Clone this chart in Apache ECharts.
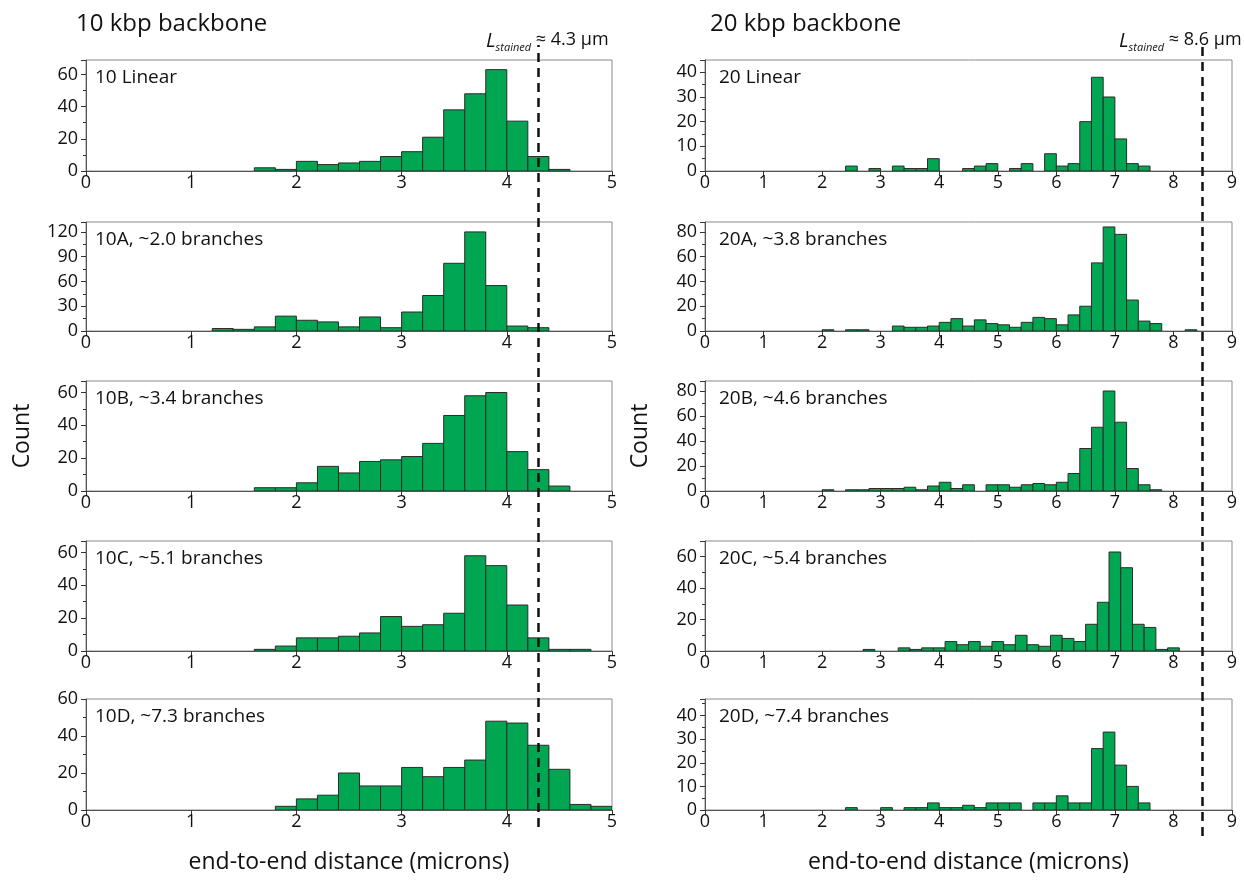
<!DOCTYPE html>
<html><head><meta charset="utf-8">
<script src="https://cdn.jsdelivr.net/npm/echarts@6/dist/echarts.min.js"></script>
<style>html,body{margin:0;padding:0;background:#fff}#c{width:1244px;height:886px}</style>
</head><body><div id="c"></div>
<script>
// ---------- DATA ----------
const BIN_WIDTH = 0.2;

const start10Linear = [1.6,1.8,2.0,2.2,2.4,2.6,2.8,3.0,3.2,3.4,3.6,3.8,4.0,4.2,4.4];
const count10Linear = [2,1,6,4,5,6,9,12,21,38,48,63,31,9,1];

const start10A = [1.2,1.4,1.6,1.8,2.0,2.2,2.4,2.6,2.8,3.0,3.2,3.4,3.6,3.8,4.0,4.2];
const count10A = [3,2,5,18,13,11,5,17,4,23,43,82,120,55,6,4];

const start10B = [1.6,1.8,2.0,2.2,2.4,2.6,2.8,3.0,3.2,3.4,3.6,3.8,4.0,4.2,4.4];
const count10B = [2,2,5,15,11,18,19,21,29,46,58,60,24,13,3];

const start10C = [1.6,1.8,2.0,2.2,2.4,2.6,2.8,3.0,3.2,3.4,3.6,3.8,4.0,4.2,4.4,4.6];
const count10C = [1,3,8,8,9,11,21,15,16,23,58,52,28,8,1,1];

const start10D = [1.8,2.0,2.2,2.4,2.6,2.8,3.0,3.2,3.4,3.6,3.8,4.0,4.2,4.4,4.6,4.8];
const count10D = [2,6,8,20,13,13,23,18,23,27,48,47,35,22,3,2];

const start20Linear = [2.4,2.8,3.2,3.4,3.6,3.8,4.4,4.6,4.8,5.2,5.4,5.8,6.0,6.2,6.4,6.6,6.8,7.0,7.2,7.4];
const count20Linear = [2,1,2,1,1,5,1,2,3,1,3,7,2,3,20,38,30,13,3,2];

const start20A = [2.0,2.4,2.6,3.2,3.4,3.6,3.8,4.0,4.2,4.4,4.6,4.8,5.0,5.2,5.4,5.6,5.8,6.0,6.2,6.4,6.6,6.8,7.0,7.2,7.4,7.6,8.2];
const count20A = [1,1,1,4,3,3,4,7,10,4,9,6,5,3,7,11,10,5,13,20,55,84,78,25,8,6,1];

const start20B = [2.0,2.4,2.6,2.8,3.0,3.2,3.4,3.6,3.8,4.0,4.2,4.4,4.8,5.0,5.2,5.4,5.6,5.8,6.0,6.2,6.4,6.6,6.8,7.0,7.2,7.4,7.6];
const count20B = [1,1,1,2,2,2,3,1,4,7,2,5,5,5,3,5,6,5,7,14,34,51,80,55,18,5,1];

const start20C = [2.7,3.3,3.5,3.7,3.9,4.1,4.3,4.5,4.7,4.9,5.1,5.3,5.5,5.7,5.9,6.1,6.3,6.5,6.7,6.9,7.1,7.3,7.5,7.7,7.9];
const count20C = [1,2,1,2,2,6,4,6,3,6,4,10,4,3,10,8,6,17,31,63,53,17,15,1,2];

const start20D = [2.4,3.0,3.4,3.6,3.8,4.0,4.2,4.4,4.6,4.8,5.0,5.2,5.6,5.8,6.0,6.2,6.4,6.6,6.8,7.0,7.2,7.4];
const count20D = [1,1,1,1,3,1,1,2,1,3,3,3,3,3,6,3,3,26,33,19,10,3];

const panelLabels = ['10 Linear','10A, ~2.0 branches','10B, ~3.4 branches','10C, ~5.1 branches','10D, ~7.3 branches',
                     '20 Linear','20A, ~3.8 branches','20B, ~4.6 branches','20C, ~5.4 branches','20D, ~7.4 branches'];
const yMaxes    = [69,132,67,67,60, 45,88,88,70,47];
const yIntervals= [20,30,20,20,20, 10,20,20,20,10];
const xMaxLeft = 5, xMaxRight = 9;
const stainedLeft = 4.3, stainedRight = 8.5;
const headerLeft = '10 kbp backbone', headerRight = '20 kbp backbone';
const stainedTextLeft = '4.3 µm', stainedTextRight = '8.6 µm';
const xAxisTitle = 'end-to-end distance (microns)';
const yAxisTitle = 'Count';

// ---------- LAYOUT ----------
const FONT = 'Open Sans';
const starts = [start10Linear,start10A,start10B,start10C,start10D,start20Linear,start20A,start20B,start20C,start20D];
const counts = [count10Linear,count10A,count10B,count10C,count10D,count20Linear,count20A,count20B,count20C,count20D];
const rowTops = [60,222,381,541,699];
const rowHeights = [111,109,110,110,111];
const colLeft = [86,705], colWidth = [526,527];
const labelInset = [4,9];

const grid=[], xAxis=[], yAxis=[], series=[], title=[];

function renderItem(params, api){
  const p0 = api.coord([api.value(0), api.value(2)]);
  const p1 = api.coord([api.value(1), 0]);
  return {type:'rect', shape:{x:p0[0], y:p0[1], width:p1[0]-p0[0], height:p1[1]-p0[1]},
          style:{fill:'#00a651', stroke:'#2b2b2b', lineWidth:1}};
}

for (let i=0;i<10;i++){
  const col = i<5?0:1, row = i%5;
  grid.push({left:colLeft[col], top:rowTops[row], width:colWidth[col], height:rowHeights[row],
             show:true, borderColor:'#8a8a8a', borderWidth:1, backgroundColor:'transparent'});
  const xa = {gridIndex:i, type:'value', min:0, max: col===0?xMaxLeft:xMaxRight, interval:1,
    axisLine:{show:true, onZero:false, lineStyle:{color:'#555', width:1}},
    axisTick:{show:true, inside:false, length:5, lineStyle:{color:'#333'}},
    axisLabel:{fontSize:18, color:'#111', fontFamily:FONT, margin:3},
    splitLine:{show:false}};
  if (i===4 || i===9){ xa.name = xAxisTitle; xa.nameLocation='middle'; xa.nameGap=41;
    xa.nameTextStyle={fontSize:23, color:'#111', fontFamily:FONT}; }
  xAxis.push(xa);
  const ya = {gridIndex:i, type:'value', min:0, max:yMaxes[i], interval:yIntervals[i],
    axisLine:{show:true, lineStyle:{color:'#555', width:1}},
    axisTick:{show:true, inside:false, length:5, lineStyle:{color:'#333'}},
    minorTick:{show:true, splitNumber:2, length:3, lineStyle:{color:'#333'}},
    axisLabel:{fontSize:18, color:'#111', fontFamily:FONT, margin:8, showMaxLabel: yMaxes[i]%yIntervals[i]===0},
    splitLine:{show:false}};
  if (i===2 || i===7){ ya.name = yAxisTitle; ya.nameLocation='middle'; ya.nameGap = col===0?52:53;
    ya.nameTextStyle={fontSize:23, color:'#111', fontFamily:FONT}; }
  yAxis.push(ya);
  series.push({type:'custom', xAxisIndex:i, yAxisIndex:i, renderItem, clip:true,
    encode:{x:[0,1], y:2},
    data: starts[i].map((s,j)=>[s, s+BIN_WIDTH, counts[i][j]])});
  title.push({text:panelLabels[i], left:colLeft[col]+labelInset[col], top:rowTops[row]+3,
    textStyle:{fontSize:19, fontWeight:'normal', color:'#111', fontFamily:FONT}});
}

// overlay grids for the full-height dashed stained-length lines
[[0,stainedLeft,xMaxLeft,782],[1,stainedRight,xMaxRight,791]].forEach(([col,v,xm,h],k)=>{
  const gi = 10+k;
  grid.push({left:colLeft[col], top:45, width:colWidth[col], height:h, show:false});
  xAxis.push({gridIndex:gi, type:'value', min:0, max:xm, show:false});
  yAxis.push({gridIndex:gi, type:'value', min:0, max:1, show:false});
  series.push({type:'line', xAxisIndex:gi, yAxisIndex:gi, data:[], z:20,
    markLine:{symbol:'none', silent:true, animation:false, label:{show:false},
      lineStyle:{type:[9,6], width:2.5, color:'#111'}, data:[{xAxis:v}]}});
});

title.push({text:headerLeft, left:71, top:7, textStyle:{fontSize:24, fontWeight:'normal', color:'#111', fontFamily:FONT}});
title.push({text:headerRight, left:705, top:7, textStyle:{fontSize:24, fontWeight:'normal', color:'#111', fontFamily:FONT}});
const richL = {
  L:{fontSize:20, fontStyle:'italic', fontWeight:'normal', color:'#111', fontFamily:FONT, lineHeight:22, verticalAlign:'top'},
  s:{fontSize:11, fontStyle:'italic', fontWeight:'normal', color:'#111', fontFamily:FONT, lineHeight:10, verticalAlign:'bottom', padding:[12,0,0,0]},
  t:{fontSize:18, fontWeight:'normal', color:'#111', fontFamily:FONT, lineHeight:22, verticalAlign:'top'}
};
title.push({text:'{L|L}{s|stained}{t| ≈ '+stainedTextLeft+'}', left:481, top:26, textStyle:{fontWeight:'normal', rich:richL}});
title.push({text:'{L|L}{s|stained}{t| ≈ '+stainedTextRight+'}', left:1114, top:26, textStyle:{fontWeight:'normal', rich:richL}});

const chart = echarts.init(document.getElementById('c'), null, {renderer:'canvas'});
chart.setOption({backgroundColor:'#fff', animation:false, title, grid, xAxis, yAxis, series});
</script></body></html>
